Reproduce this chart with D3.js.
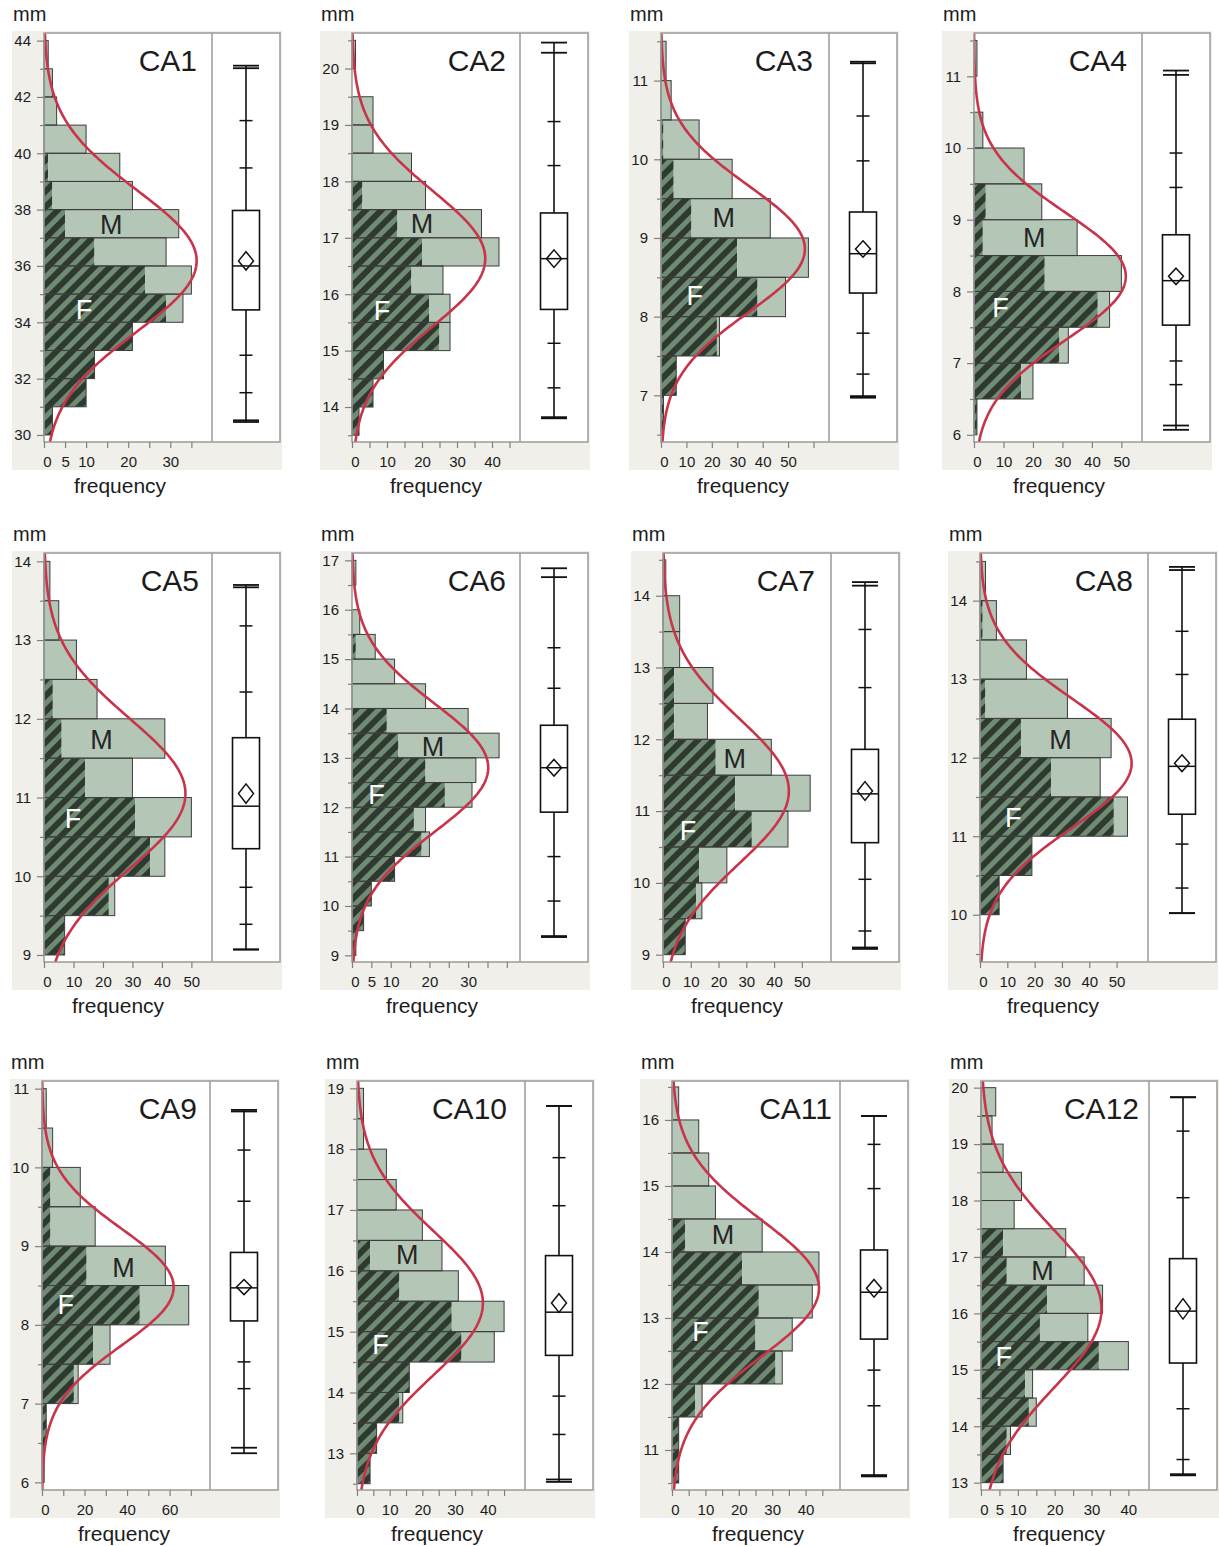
<!DOCTYPE html>
<html><head><meta charset="utf-8">
<script src="https://cdn.jsdelivr.net/npm/d3@7"></script>
<style>
body{margin:0;background:#fff;}
svg{display:block;font-family:"Liberation Sans",Arial,Helvetica,sans-serif;}
</style>
</head><body>
<svg id="chart" width="1219" height="1546"></svg>
<script>
// ---------------- DATA ----------------
const panelNames = ["CA1","CA2","CA3","CA4","CA5","CA6","CA7","CA8","CA9","CA10","CA11","CA12"];
// lower edge (mm) of the first histogram bin, and bin width (mm)
const binStart = [30, 13.5, 6.5, 6, 9, 9, 9, 10, 6, 12.5, 10.5, 13];
const binWidth = [1, 0.5, 0.5, 0.5, 0.5, 0.5, 0.5, 0.5, 0.5, 0.5, 0.5, 0.5];
// counts per bin, from the lowest bin upward
const femaleCounts = [
  [2,10,12,21,29,24,12,5,2,1,0,0,0,0],
  [2,6,9,25,22,17,20,13,3,0,0,0,0,0],
  [1,6,22,38,30,12,5,1,0,0],
  [1,16,29,42,24,3,4,0,0,0,0],
  [7,22,36,31,14,6,3,0,0,0],
  [1,3,5,11,18,16,24,19,12,9,0,0,1,0,0,0],
  [8,12,13,32,26,19,4,4,0,0,0],
  [7,19,49,26,15,2,0,1,0],
  [1,2,15,24,46,21,4,4,0,0],
  [4,6,13,16,32,29,13,4,0,0,0,0,0],
  [2,2,7,31,25,26,21,4,0,0,0,0],
  [6,7,13,12,32,16,18,7,6,0,0,0,0,0]
];
const maleCounts = [
  [0,0,0,0,4,11,17,27,19,17,10,3,2,1],
  [0,0,0,3,6,9,22,24,18,17,6,6,0,1],
  [0,0,1,11,28,31,23,14,4,2],
  [0,4,3,4,26,32,19,17,3,0,1],
  [0,2,5,19,16,35,15,11,5,2],
  [0,0,0,0,2,3,7,13,26,21,19,11,5,2,0,1],
  [0,2,10,13,27,20,12,14,6,6,1],
  [0,0,5,18,33,30,17,5,2],
  [0,0,2,8,23,37,21,14,5,2],
  [0,0,1,0,10,16,18,22,20,12,9,2,2],
  [0,0,2,2,11,16,23,23,13,11,8,2],
  [0,1,2,2,8,13,15,21,17,9,11,6,3,4]
];
// quantiles: min, 0.5%, 2.5%, 10%, 25%, median, 75%, 90%, 97.5%, 99.5%, max
const quantiles = [
  [30.46,30.52,31.50,32.83,34.44,36.00,37.97,39.48,41.16,43.02,43.11],
  [13.80,13.82,14.34,15.13,15.73,16.63,17.44,18.28,19.06,20.28,20.46],
  [6.97,6.99,7.27,7.79,8.30,8.80,9.33,9.98,10.55,11.22,11.24],
  [6.07,6.13,6.70,7.03,7.53,8.15,8.79,9.45,9.93,11.02,11.08],
  [9.07,9.07,9.39,9.86,10.35,10.89,11.76,12.34,13.18,13.67,13.70],
  [9.37,9.39,10.10,11.00,11.90,12.80,13.66,14.41,15.23,16.66,16.84],
  [9.08,9.10,9.33,10.05,10.56,11.24,11.86,12.72,13.53,14.14,14.19],
  [10.02,10.02,10.34,10.90,11.28,11.89,12.49,13.06,13.61,14.39,14.43],
  [6.37,6.44,7.19,7.53,8.05,8.47,8.92,9.57,10.22,10.71,10.73],
  [12.53,12.57,13.31,13.94,14.61,15.32,16.25,17.07,17.86,18.71,18.71],
  [10.60,10.62,11.67,12.21,12.68,13.39,14.03,14.96,15.63,16.06,16.06],
  [13.13,13.15,13.41,14.31,15.12,16.04,16.97,18.05,19.23,19.83,19.83]
];
const means = [36.18,16.63,8.86,8.21,11.05,12.80,11.28,11.93,8.48,15.47,13.45,16.08];
const stdDevs = [2.52,1.20,0.807,0.883,0.952,1.298,1.008,0.823,0.738,1.186,1.038,1.397];
// axis ranges and ticks
const yDomains = [[29.75,44.27],[13.38,20.63],[6.407,11.605],[5.90,11.604],[8.911,14.106],[8.865,17.149],
                  [8.898,14.595],[9.398,14.607],[5.903,11.097],[12.397,19.12],[10.394,16.59],[12.87,20.118]];
const yTickLabels = [
  [30,32,34,36,38,40,42,44],[14,15,16,17,18,19,20],[7,8,9,10,11],[6,7,8,9,10,11],
  [9,10,11,12,13,14],[9,10,11,12,13,14,15,16,17],[9,10,11,12,13,14],[10,11,12,13,14],
  [6,7,8,9,10,11],[13,14,15,16,17,18,19],[11,12,13,14,15,16],[13,14,15,16,17,18,19,20]
];
const freqMax = [39.9,48,66.1,57,57,43.4,60.5,61.5,79,51.4,50.3,45.6];
const freqTickStep = [5,5,10,10,10,5,10,10,10,5,5,5];
const freqTickEnd = [35,45,60,50,50,40,50,50,70,45,45,40];
const freqTickLabels = [
  [0,5,10,20,30],[0,10,20,30,40],[0,10,20,30,40,50],[0,10,20,30,40,50],
  [0,10,20,30,40,50],[0,5,10,20,30],[0,10,20,30,40,50],[0,10,20,30,40,50],
  [0,20,40,60],[0,10,20,30,40],[0,10,20,30,40],[0,5,10,20,30,40]
];
// annotation anchor points [frequency, mm]
const labelM = [[16,37.49],[20,17.26],[24.7,9.26],[20.4,8.75],[19.5,11.74],[20.9,13.23],[25.8,11.73],[29.5,12.24],[38.3,8.73],[15.4,16.27],[15.3,14.27],[16.7,16.76]];
const labelF = [[9.5,34.47],[8.6,15.71],[13.3,8.27],[9.0,7.78],[9.8,10.74],[6.3,12.27],[9.0,10.73],[12.2,11.24],[11.2,8.26],[7.2,14.79],[8.5,12.80],[6.2,15.24]];

// ---------------- LAYOUT ----------------
const W = 236, HW = 168, H = 409;
// x,y: frame corner; tg: title gap from divider; fo: "frequency" label offset
const layout = [
  {x:44,y:33,tg:15,fo:-8},{x:352,y:33,tg:14,fo:0},{x:661,y:33,tg:16,fo:-2},{x:974,y:33,tg:15,fo:1},
  {x:44,y:553,tg:13,fo:-10},{x:352,y:553,tg:14,fo:-4},{x:663,y:553,tg:16,fo:-10},{x:980,y:553,tg:15,fo:-11},
  {x:42,y:1081,tg:13,fo:-2},{x:357,y:1081,tg:18,fo:-4},{x:672,y:1081,tg:8,fo:2},{x:981,y:1081,tg:10,fo:-6}
];
const C = {bg:"#f0efea", frame:"#9a9a9a", tick:"#808080", text:"#1c1c1c",
           mFill:"#b4c6b6", hDark:"#2e3a30", hLight:"#6f8b73", barStroke:"#3c3c3c", curve:"#c8344a"};

const svg = d3.select("#chart");
const defs = svg.append("defs");
const pat = defs.append("pattern").attr("id","hatch").attr("patternUnits","userSpaceOnUse")
  .attr("width",11).attr("height",11).attr("patternTransform","rotate(45)");
pat.append("rect").attr("width",11).attr("height",11).attr("fill",C.hLight);
pat.append("rect").attr("width",6).attr("height",11).attr("fill",C.hDark);

function pdf(v, m, s){ return Math.exp(-0.5*((v-m)/s)**2)/(s*Math.sqrt(2*Math.PI)); }

panelNames.forEach((name,i)=>{
  const L = layout[i];
  const g = svg.append("g").attr("transform",`translate(${L.x},${L.y})`);
  const y = d3.scaleLinear().domain(yDomains[i]).range([H,0]);
  const x = d3.scaleLinear().domain([0,freqMax[i]]).range([0,HW]);

  g.append("rect").attr("x",-32).attr("y",-2).attr("width",W+34).attr("height",H+30).attr("fill",C.bg);
  g.append("rect").attr("width",W).attr("height",H).attr("fill","#fff");

  defs.append("clipPath").attr("id","clip"+i).append("rect").attr("width",HW).attr("height",H);

  // bars
  const bins = femaleCounts[i].map((f,k)=>({lo:binStart[i]+k*binWidth[i], hi:binStart[i]+(k+1)*binWidth[i], f, m:maleCounts[i][k]}))
                .filter(b=>b.f+b.m>0);
  const bg = g.append("g");
  bg.selectAll("rect.f").data(bins.filter(b=>b.f>0)).join("rect").attr("class","f")
    .attr("x",0).attr("y",b=>y(b.hi)).attr("width",b=>x(b.f)).attr("height",b=>y(b.lo)-y(b.hi))
    .attr("fill","url(#hatch)");
  bg.selectAll("rect.m").data(bins.filter(b=>b.m>0)).join("rect").attr("class","m")
    .attr("x",b=>x(b.f)).attr("y",b=>y(b.hi)).attr("width",b=>x(b.f+b.m)-x(b.f)).attr("height",b=>y(b.lo)-y(b.hi))
    .attr("fill",C.mFill);
  bg.selectAll("rect.o").data(bins).join("rect").attr("class","o")
    .attr("x",0).attr("y",b=>y(b.hi)).attr("width",b=>x(b.f+b.m)).attr("height",b=>y(b.lo)-y(b.hi))
    .attr("fill","none").attr("stroke",C.barStroke).attr("stroke-width",1);

  // labels M / F
  g.append("text").attr("x",x(labelM[i][0])).attr("y",y(labelM[i][1])).attr("dy","0.36em")
    .attr("text-anchor","middle").attr("font-size",27).attr("fill","#262626").text("M");
  g.append("text").attr("x",x(labelF[i][0])).attr("y",y(labelF[i][1])).attr("dy","0.36em")
    .attr("text-anchor","middle").attr("font-size",27).attr("fill","#fff").text("F");

  // fitted normal curve
  const n = d3.sum(femaleCounts[i])+d3.sum(maleCounts[i]);
  const [d0,d1] = yDomains[i];
  const vs = d3.range(0,241).map(j=>d0+(d1-d0)*j/240);
  g.append("path").attr("clip-path",`url(#clip${i})`)
    .attr("d",d3.line().x(v=>x(n*binWidth[i]*pdf(v,means[i],stdDevs[i]))).y(v=>y(v))(vs))
    .attr("fill","none").attr("stroke",C.curve).attr("stroke-width",2.6);

  // frame and divider
  g.append("rect").attr("width",W).attr("height",H).attr("fill","none").attr("stroke",C.frame).attr("stroke-width",1.5);
  g.append("line").attr("x1",HW).attr("x2",HW).attr("y1",0).attr("y2",H).attr("stroke",C.frame).attr("stroke-width",1.5);

  // y axis
  const minor = d3.range(Math.ceil(d0/binWidth[i])*binWidth[i], d1, binWidth[i])
     .filter(v=>!yTickLabels[i].some(t=>Math.abs(t-v)<1e-6));
  const ya = g.append("g").call(d3.axisLeft(y).tickValues(yTickLabels[i]).tickSize(7).tickPadding(6).tickFormat(d3.format("d")));
  const ym = g.append("g").call(d3.axisLeft(y).tickValues(minor).tickSize(4).tickFormat(""));
  [ya,ym].forEach(a=>{a.attr("font-family",null).attr("font-size",null);
    a.select(".domain").remove(); a.selectAll("line").attr("stroke",C.tick).attr("stroke-width",1.2);});
  ya.selectAll("text").attr("font-size",15).attr("fill",C.text);

  // x axis
  const xt = d3.range(0,freqTickEnd[i]+0.001,freqTickStep[i]);
  const xa = g.append("g").attr("transform",`translate(0,${H})`)
    .call(d3.axisBottom(x).tickValues(xt).tickSize(6).tickPadding(8)
      .tickFormat(d=>freqTickLabels[i].includes(d)?String(d):""));
  xa.attr("font-family",null).attr("font-size",null);
  xa.select(".domain").remove();
  xa.selectAll("line").attr("stroke",C.tick).attr("stroke-width",1.2);
  xa.selectAll("text").attr("font-size",15).attr("fill",C.text).attr("dx",d=>d===0?3:0);

  // titles
  g.append("text").attr("x",HW-L.tg).attr("y",38).attr("text-anchor","end").attr("font-size",30).attr("fill",C.text).text(name);
  g.append("text").attr("x",-31).attr("y",-12).attr("font-size",20).attr("fill",C.text).text("mm");
  g.append("text").attr("x",HW/2+L.fo).attr("y",H+51).attr("text-anchor","middle").attr("font-size",21).attr("fill",C.text).text("frequency");

  // quantile box plot
  const q = quantiles[i];
  const cx = HW+(W-HW)/2;
  const bp = g.append("g").attr("stroke","#111").attr("fill","none");
  bp.append("line").attr("x1",cx).attr("x2",cx).attr("y1",y(q[0])).attr("y2",y(q[10])).attr("stroke-width",1.6);
  [q[0],q[1],q[9],q[10]].forEach(v=>bp.append("line").attr("x1",cx-13).attr("x2",cx+13).attr("y1",y(v)).attr("y2",y(v)).attr("stroke-width",1.8));
  [q[2],q[3],q[7],q[8]].forEach(v=>bp.append("line").attr("x1",cx-6.5).attr("x2",cx+6.5).attr("y1",y(v)).attr("y2",y(v)).attr("stroke-width",1.5));
  bp.append("rect").attr("x",cx-13.5).attr("width",27).attr("y",y(q[6])).attr("height",y(q[4])-y(q[6]))
    .attr("fill","#fff").attr("stroke-width",1.6);
  bp.append("line").attr("x1",cx-13.5).attr("x2",cx+13.5).attr("y1",y(q[5])).attr("y2",y(q[5])).attr("stroke-width",1.5);
  const ci = 1.96*stdDevs[i]/Math.sqrt(n);
  const ym1 = y(means[i]+ci), ym0 = y(means[i]-ci), ymc = y(means[i]);
  bp.append("path").attr("d",`M${cx},${ym1}L${cx+7.5},${ymc}L${cx},${ym0}L${cx-7.5},${ymc}Z`).attr("stroke-width",1.5);
});
</script>
</body></html>
